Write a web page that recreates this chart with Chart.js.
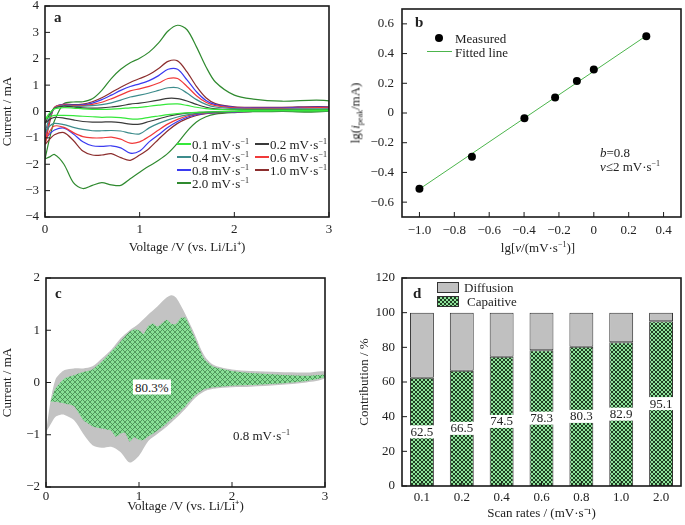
<!DOCTYPE html>
<html>
<head>
<meta charset="utf-8">
<script src="https://cdn.jsdelivr.net/npm/chart.js@4.4.1/dist/chart.umd.min.js"></script>
<style>
body { margin: 0; background: #fff; }
#fig { position: relative; width: 685px; height: 525px; font-family: 'Liberation Serif', 'Times New Roman', serif; color: #222; font-size: 13px; }
#fig canvas { position: absolute; }
.t { position: absolute; white-space: nowrap; line-height: 1; transform: translateY(-50%); }
.lbl { font-weight: bold; font-size: 15px; }
sup { font-size: 8px; vertical-align: 5px; line-height: 0; }
sub { font-size: 8px; vertical-align: -3px; line-height: 0; }
.sw { position: absolute; height: 1.5px; width: 14px; }
</style>
</head>
<body>
<div id="fig">
  <canvas id="chartA" width="342" height="262" style="left:0;top:0"></canvas>
  <canvas id="chartB" width="343" height="262" style="left:342px;top:0"></canvas>
  <canvas id="chartC" width="342" height="263" style="left:0;top:262px"></canvas>
  <canvas id="chartD" width="343" height="263" style="left:342px;top:262px"></canvas>

  <div class="t lbl" style="left:54px;top:17px">a</div>
  <div class="t lbl" style="left:415px;top:22px">b</div>
  <div class="t lbl" style="left:55px;top:293px">c</div>
  <div class="t lbl" style="left:413px;top:293px">d</div>

  <!-- panel b -->
  <div style="position:absolute;left:435px;top:34px;width:8px;height:8px;border-radius:50%;background:#000"></div>
  <div class="t" style="left:455px;top:38px">Measured</div>
  <div style="position:absolute;left:427px;top:51px;width:25px;height:1.2px;background:#4cb54c"></div>
  <div class="t" style="left:455px;top:52px">Fitted line</div>
  <div class="t" style="left:600px;top:152px"><i>b</i>=0.8</div>
  <div class="t" style="left:600px;top:166px"><i>v</i>≤2 mV·s<sup>−1</sup></div>
  <div class="t" style="left:538px;top:247px;transform:translate(-50%,-50%)">lg[<i>v</i>/(mV·s<sup>−1</sup>)]</div>
  <div class="t" style="left:355px;top:113px;transform:translate(-50%,-50%) rotate(-90deg)">lg(<i>i</i><sub>peak</sub>/mA)</div>

  <!-- panel c -->
  <div class="t" style="left:133px;top:387px;background:#fff;padding:1px 2px">80.3%</div>
  <div class="t" style="left:233px;top:435px">0.8 mV·s<sup>−1</sup></div>

  <!-- panel d legend -->
  <canvas id="swDiff" width="22" height="11" style="left:437px;top:282px"></canvas>
  <canvas id="swCap" width="22" height="11" style="left:437px;top:296px"></canvas>
  <div class="t" style="left:464px;top:287px">Diffusion</div>
  <div class="t" style="left:467px;top:301px">Capaitive</div>
</div>

<script>
// ---- panel a: CV curves at different scan rates ----
const scanLabels = ['0.1', '0.2', '0.4', '0.6', '0.8', '1.0', '2.0'];
const scanColors = ['#35e83a', '#3a3a3a', '#3d8c8c', '#f03a3a', '#3a3af0', '#8c2e2e', '#2f8a2f'];
const cvVoltage = [0, 0.05, 0.1, 0.2, 0.3, 0.4, 0.5, 0.6, 0.7, 0.8, 0.9, 1.0, 1.1, 1.2, 1.3, 1.4, 1.5, 1.6, 1.7, 1.8, 2.0, 2.2, 2.5, 3.0];

const up01 = [-0.3, -0.05, 0.1, 0.15, 0.13, 0.1, 0.08, 0.08, 0.09, 0.11, 0.14, 0.16, 0.2, 0.24, 0.28, 0.29, 0.23, 0.16, 0.11, 0.08, 0.06, 0.05, 0.05, 0.06];
const up02 = [-0.45, -0.1, 0.12, 0.2, 0.17, 0.14, 0.13, 0.14, 0.17, 0.21, 0.28, 0.32, 0.37, 0.43, 0.5, 0.49, 0.4, 0.27, 0.16, 0.1, 0.07, 0.06, 0.06, 0.07];
const up04 = [-0.8, -0.2, 0.12, 0.22, 0.2, 0.2, 0.22, 0.26, 0.33, 0.43, 0.55, 0.62, 0.7, 0.8, 0.9, 0.9, 0.7, 0.45, 0.27, 0.17, 0.11, 0.09, 0.09, 0.1];
const up06 = [-1.2, -0.3, 0.15, 0.25, 0.22, 0.22, 0.27, 0.35, 0.48, 0.63, 0.78, 0.86, 0.95, 1.08, 1.25, 1.25, 0.95, 0.6, 0.35, 0.22, 0.14, 0.12, 0.12, 0.14];
const up08 = [-1.05, -0.3, 0.15, 0.27, 0.24, 0.25, 0.32, 0.45, 0.62, 0.8, 0.95, 1.05, 1.17, 1.36, 1.6, 1.6, 1.2, 0.75, 0.42, 0.26, 0.16, 0.14, 0.14, 0.16];
const up10 = [-1.25, -0.4, 0.15, 0.28, 0.26, 0.28, 0.37, 0.52, 0.72, 0.92, 1.1, 1.25, 1.4, 1.63, 1.9, 1.92, 1.5, 0.95, 0.52, 0.3, 0.18, 0.16, 0.16, 0.18];
const up20 = [-1.8, -1.0, -0.35, 0.3, 0.36, 0.37, 0.48, 0.8, 1.25, 1.6, 1.85, 2.02, 2.25, 2.6, 3.05, 3.27, 3.1, 2.45, 1.7, 1.12, 0.62, 0.47, 0.39, 0.4];

const low01 = [-0.3, -0.2, -0.15, -0.15, -0.16, -0.18, -0.2, -0.22, -0.21, -0.23, -0.28, -0.28, -0.22, -0.17, -0.12, -0.08, -0.05, -0.03, -0.02, -0.01, 0, 0.01, 0.02, 0.02];
const low02 = [-0.45, -0.3, -0.22, -0.25, -0.32, -0.38, -0.4, -0.4, -0.39, -0.42, -0.48, -0.48, -0.38, -0.28, -0.18, -0.11, -0.06, -0.04, -0.02, -0.01, 0, 0.01, 0.02, 0.03];
const low04 = [-0.8, -0.55, -0.45, -0.5, -0.6, -0.68, -0.73, -0.73, -0.72, -0.74, -0.82, -0.85, -0.62, -0.45, -0.32, -0.21, -0.13, -0.07, -0.04, -0.02, -0.01, 0, 0.02, 0.03];
const low06 = [-1.2, -0.75, -0.55, -0.6, -0.8, -0.95, -1.0, -1.0, -0.97, -1.05, -1.2, -1.15, -0.95, -0.7, -0.47, -0.3, -0.17, -0.09, -0.05, -0.03, -0.01, 0, 0.02, 0.04];
const low08 = [-1.05, -0.85, -0.7, -0.63, -0.85, -1.15, -1.3, -1.32, -1.3, -1.38, -1.58, -1.5, -1.15, -0.88, -0.6, -0.38, -0.22, -0.12, -0.07, -0.04, -0.02, 0, 0.02, 0.04];
const low10 = [-1.25, -1.05, -0.88, -0.8, -1.1, -1.5, -1.65, -1.65, -1.6, -1.75, -1.85, -1.65, -1.4, -1.05, -0.72, -0.45, -0.27, -0.15, -0.08, -0.05, -0.02, 0, 0.02, 0.05];
const low20 = [-1.8, -1.72, -1.63, -2.0, -2.7, -2.92, -2.8, -2.7, -2.78, -2.8, -2.55, -2.3, -2.07, -1.85, -1.58, -1.2, -0.75, -0.4, -0.2, -0.1, -0.04, -0.01, 0, 0.02];

const cvUp = [up01, up02, up04, up06, up08, up10, up20];
const cvLow = [low01, low02, low04, low06, low08, low10, low20];

// ---- panel b: log peak current vs log scan rate ----
const logRate = [-1.0, -0.699, -0.398, -0.222, -0.097, 0, 0.301];
const logPeak = [-0.51, -0.295, -0.035, 0.105, 0.215, 0.293, 0.517];
const fitX = [-1.0, 0.301];
const fitY = [-0.512, 0.52];
const bTicksX = [-1.0, -0.8, -0.6, -0.4, -0.2, 0, 0.2, 0.4];
const bTicksY = [-0.6, -0.4, -0.2, 0, 0.2, 0.4, 0.6];

// ---- panel c: total vs capacitive current at 0.8 mV/s ----
const totVoltage = [0, 0.05, 0.1, 0.15, 0.2, 0.3, 0.4, 0.5, 0.6, 0.7, 0.8, 0.9, 1.0, 1.1, 1.2, 1.3, 1.35, 1.4, 1.5, 1.6, 1.7, 1.8, 2.0, 2.2, 2.5, 2.8, 3.0];
const totUp = [-0.95, -0.34, 0.05, 0.17, 0.24, 0.27, 0.27, 0.31, 0.46, 0.62, 0.84, 1.0, 1.13, 1.3, 1.46, 1.63, 1.67, 1.62, 1.3, 0.92, 0.52, 0.34, 0.25, 0.22, 0.2, 0.19, 0.21];
const totLow = [-0.95, -0.8, -0.66, -0.62, -0.62, -0.72, -0.98, -1.2, -1.25, -1.23, -1.33, -1.53, -1.4, -1.12, -0.98, -0.84, -0.76, -0.68, -0.5, -0.3, -0.17, -0.12, -0.09, -0.08, -0.05, 0.0, 0.08];
const capVoltage = [0.05, 0.1, 0.2, 0.3, 0.4, 0.5, 0.6, 0.7, 0.75, 0.8, 0.85, 0.9, 0.95, 1.0, 1.05, 1.1, 1.15, 1.2, 1.3, 1.35, 1.4, 1.45, 1.5, 1.6, 1.7, 1.8, 2.0, 2.2, 2.5, 2.8, 3.0];
const capUp = [-0.37, -0.12, 0.08, 0.14, 0.2, 0.25, 0.4, 0.59, 0.68, 0.78, 0.88, 0.97, 1.02, 1.0, 0.93, 1.08, 1.13, 1.07, 1.2, 1.12, 1.12, 1.24, 1.24, 0.85, 0.45, 0.3, 0.22, 0.18, 0.15, 0.13, 0.15];
const capLow = [-0.37, -0.37, -0.4, -0.45, -0.72, -0.84, -0.88, -0.92, -1.04, -0.98, -0.96, -1.13, -1.05, -1.1, -1.1, -1.03, -0.98, -0.92, -0.78, -0.7, -0.62, -0.54, -0.45, -0.25, -0.13, -0.09, -0.06, -0.05, -0.02, 0.03, 0.1];

// ---- panel d: contribution ----
const capacitive = [62.5, 66.5, 74.5, 78.3, 80.3, 82.9, 95.1];
const diffusion = [37.5, 33.5, 25.5, 21.7, 19.7, 17.1, 4.9];

Chart.defaults.font.family = "'Liberation Serif', 'Times New Roman', serif";
Chart.defaults.font.size = 13;
Chart.defaults.color = '#222';

function loop(v, up, low) {
  const pts = v.map((x, i) => ({ x, y: up[i] }));
  for (let i = v.length - 1; i >= 0; i--) pts.push({ x: v[i], y: low[i] });
  return pts;
}

function hatch(bg, fg, size, lw) {
  const c = document.createElement('canvas');
  c.width = size; c.height = size;
  const g = c.getContext('2d');
  g.fillStyle = bg; g.fillRect(0, 0, size, size);
  g.strokeStyle = fg; g.lineWidth = lw;
  g.beginPath();
  for (const o of [-size, 0, size]) {
    g.moveTo(o, 0); g.lineTo(o + size, size);
    g.moveTo(o + size, 0); g.lineTo(o, size);
  }
  g.stroke();
  return g.createPattern(c, 'repeat');
}

const minus = v => String(v).replace('-', '\u2212');
const oneDec = v => Math.abs(v) < 1e-9 ? '0' : v.toFixed(1).replace('-', '\u2212');

// fixed axis sizes so every plot box lands where it is in the figure
const fixY = w => s => { s.width = w; s.paddingTop = 0; s.paddingBottom = 0; };
const fixX = h => s => { s.height = h; s.paddingLeft = 0; s.paddingRight = 0; };
const noGrid = { display: false, drawTicks: false };

// box around the plot + short inward ticks
const frame = {
  id: 'frame',
  afterDatasetsDraw(chart) {
    const { ctx, chartArea: a } = chart;
    const x = chart.scales.x, y = chart.scales.y;
    ctx.save();
    ctx.strokeStyle = '#1a1a1a';
    ctx.lineWidth = 1;
    ctx.beginPath();
    x.ticks.forEach((t, i) => { const p = x.getPixelForTick(i); ctx.moveTo(p, a.bottom); ctx.lineTo(p, a.bottom - 5); });
    y.ticks.forEach((t, i) => { const p = y.getPixelForTick(i); ctx.moveTo(a.left, p); ctx.lineTo(a.left + 5, p); });
    ctx.stroke();
    ctx.lineWidth = 1.6;
    ctx.strokeRect(a.left, a.top, a.right - a.left, a.bottom - a.top);
    ctx.restore();
  }
};

const noPlugins = { legend: { display: false }, tooltip: { enabled: false } };

// panel a
new Chart(document.getElementById('chartA'), {
  type: 'line',
  data: {
    datasets: scanLabels.map((lab, i) => ({
      label: lab + ' mV·s⁻¹',
      data: loop(cvVoltage, cvUp[i], cvLow[i]),
      borderColor: scanColors[i],
      borderWidth: 1.2,
      pointRadius: 0,
      tension: 0.3,
      fill: false
    }))
  },
  options: {
    responsive: false, animation: false, events: [],
    layout: { padding: { left: 0, top: 6, right: 13, bottom: 0 } },
    plugins: noPlugins,
    scales: {
      x: {
        type: 'linear', min: 0, max: 3,
        ticks: { stepSize: 1, padding: 5 },
        grid: noGrid, border: { display: false },
        title: { display: true, text: 'Voltage /V (vs. Li/Li⁺)', padding: { top: 0, bottom: 7 } },
        afterFit: fixX(45)
      },
      y: {
        min: -4, max: 4,
        ticks: { stepSize: 1, padding: 6, callback: minus },
        grid: noGrid, border: { display: false },
        title: { display: true, text: 'Current / mA', padding: { top: 0, bottom: 0 } },
        afterFit: fixY(45)
      }
    }
  },
  plugins: [frame]
});

// legend of panel a
const legendPos = [[177, 144], [255, 144], [177, 157], [255, 157], [177, 170], [255, 170], [177, 183]];
const fig = document.getElementById('fig');
scanLabels.forEach((lab, i) => {
  const [lx, ly] = legendPos[i];
  const sw = document.createElement('div');
  sw.className = 'sw';
  sw.style.left = lx + 'px';
  sw.style.top = (ly - 1) + 'px';
  sw.style.background = scanColors[i];
  fig.appendChild(sw);
  const tx = document.createElement('div');
  tx.className = 't';
  tx.style.left = (lx + 15) + 'px';
  tx.style.top = ly + 'px';
  tx.innerHTML = lab + ' mV·s<sup>−1</sup>';
  fig.appendChild(tx);
});

// panel b
new Chart(document.getElementById('chartB'), {
  type: 'scatter',
  data: {
    datasets: [
      {
        label: 'Measured',
        data: logRate.map((x, i) => ({ x, y: logPeak[i] })),
        backgroundColor: '#000', borderWidth: 0, pointRadius: 4
      },
      {
        label: 'Fitted line',
        data: fitX.map((x, i) => ({ x, y: fitY[i] })),
        showLine: true, borderColor: '#4cb54c', borderWidth: 1, pointRadius: 0
      }
    ]
  },
  options: {
    responsive: false, animation: false, events: [],
    layout: { padding: { left: 0, top: 9, right: 3, bottom: 0 } },
    plugins: noPlugins,
    scales: {
      x: {
        type: 'linear', min: -1.1, max: 0.5,
        afterBuildTicks: s => { s.ticks = bTicksX.map(value => ({ value })); },
        ticks: { padding: 6, callback: oneDec },
        grid: noGrid, border: { display: false },
        afterFit: fixX(45)
      },
      y: {
        min: -0.7, max: 0.7,
        afterBuildTicks: s => { s.ticks = bTicksY.map(value => ({ value })); },
        ticks: { padding: 8, callback: oneDec },
        grid: noGrid, border: { display: false },
        afterFit: fixY(60)
      }
    }
  },
  plugins: [frame]
});

// panel c
const hatchC = hatch('#88df96', '#3b7a46', 5, 0.7);
new Chart(document.getElementById('chartC'), {
  type: 'line',
  data: {
    datasets: [
      {
        label: 'Capacitive',
        data: loop(capVoltage, capUp, capLow),
        order: 1, fill: 'shape', backgroundColor: hatchC,
        borderColor: 'rgba(0,0,0,0)', borderWidth: 0, pointRadius: 0, tension: 0.15
      },
      {
        label: 'Total',
        data: loop(totVoltage, totUp, totLow),
        order: 2, fill: 'shape', backgroundColor: '#c3c3c3',
        borderColor: 'rgba(0,0,0,0)', borderWidth: 0, pointRadius: 0, tension: 0.3
      }
    ]
  },
  options: {
    responsive: false, animation: false, events: [],
    layout: { padding: { left: 0, top: 16, right: 17, bottom: 0 } },
    plugins: noPlugins,
    scales: {
      x: {
        type: 'linear', min: 0, max: 3,
        ticks: { stepSize: 1, padding: 2 },
        grid: noGrid, border: { display: false },
        title: { display: true, text: 'Voltage /V (vs. Li/Li⁺)', padding: { top: 0, bottom: 11 } },
        afterFit: fixX(38)
      },
      y: {
        min: -2, max: 2,
        ticks: { stepSize: 1, padding: 6, callback: minus },
        grid: noGrid, border: { display: false },
        title: { display: true, text: 'Current / mA', padding: { top: 0, bottom: 0 } },
        afterFit: fixY(46)
      }
    }
  },
  plugins: [frame]
});

// panel d
const hatchD = hatch('#8ee39a', '#1f3f22', 4, 1);
const barLabels = {
  id: 'barLabels',
  afterDatasetsDraw(chart) {
    const meta = chart.getDatasetMeta(0);
    const ctx = chart.ctx;
    ctx.save();
    ctx.font = "13px 'Liberation Serif', serif";
    ctx.textAlign = 'center';
    ctx.textBaseline = 'middle';
    meta.data.forEach((bar, i) => {
      const { x, y, base } = bar.getProps(['x', 'y', 'base'], true);
      const cy = (y + base) / 2;
      const txt = capacitive[i].toFixed(1);
      const w = ctx.measureText(txt).width + 3;
      ctx.fillStyle = '#fff';
      ctx.fillRect(x - w / 2, cy - 6.5, w, 13);
      ctx.fillStyle = '#222';
      ctx.fillText(txt, x, cy + 0.5);
    });
    ctx.restore();
  }
};
new Chart(document.getElementById('chartD'), {
  type: 'bar',
  data: {
    labels: scanLabels,
    datasets: [
      { label: 'Capaitive', data: capacitive, backgroundColor: hatchD, borderColor: '#333', borderWidth: 1, borderSkipped: false },
      { label: 'Diffusion', data: diffusion, backgroundColor: '#c0c0c0', borderColor: '#333', borderWidth: 1, borderSkipped: false }
    ]
  },
  options: {
    responsive: false, animation: false, events: [],
    layout: { padding: { left: 0, top: 16, right: 4, bottom: 0 } },
    plugins: noPlugins,
    datasets: { bar: { barPercentage: 0.6, categoryPercentage: 1 } },
    scales: {
      x: {
        stacked: true,
        ticks: { padding: 4 },
        grid: noGrid, border: { display: false },
        title: { display: true, text: 'Scan rates / (mV·s⁻¹)', padding: { top: 0, bottom: 4 } },
        afterFit: fixX(39)
      },
      y: {
        stacked: true, min: 0, max: 120,
        ticks: { stepSize: 20, padding: 7 },
        grid: noGrid, border: { display: false },
        title: { display: true, text: 'Contribution / %', padding: { top: 15, bottom: 0 } },
        afterFit: fixY(60)
      }
    }
  },
  plugins: [frame, barLabels]
});

// legend swatches of panel d
function swatch(id, fillStyle) {
  const g = document.getElementById(id).getContext('2d');
  g.fillStyle = fillStyle;
  g.fillRect(0, 0, 22, 11);
  g.strokeStyle = '#333';
  g.lineWidth = 1;
  g.strokeRect(0.5, 0.5, 21, 10);
}
swatch('swDiff', '#c0c0c0');
swatch('swCap', hatchD);
</script>
</body>
</html>
